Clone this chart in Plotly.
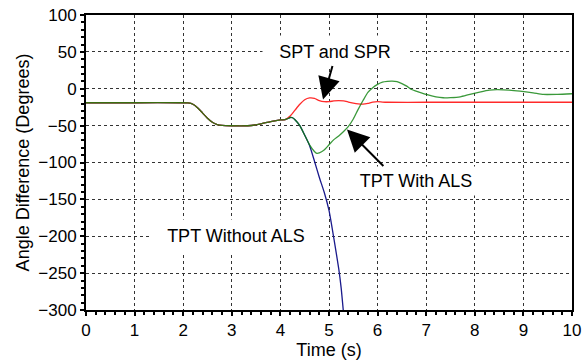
import plotly.graph_objects as go

# Shared pre-fault trajectory (all three cases coincide)
time_shared = [0, 1, 2, 2.1, 2.2, 2.3, 2.4, 2.5, 2.6, 2.7, 2.8, 3.0, 3.2, 3.4, 3.6, 3.8, 4.0, 4.1]
angle_shared = [-19, -19, -19, -19.3, -21, -26, -33, -40, -45.5, -48.5, -49.7, -50.2, -50.3, -49.8, -47.5, -44.5, -42.3, -41.8]

# SPT and SPR (red)
time_spt = [4.2, 4.3, 4.4, 4.5, 4.6, 4.7, 4.8, 4.9, 5.0, 5.1, 5.2, 5.3, 5.4, 5.5, 5.6, 5.7, 5.8, 5.9, 6.0, 6.1, 6.2, 7.0, 8.0, 9.0, 10.0]
angle_spt = [-37, -29, -21, -15, -12.5, -13, -16, -17.5, -17.5, -16.5, -16, -16.5, -18, -19.5, -20.5, -20.8, -19.8, -18, -17.5, -18, -18.3, -18.3, -18.3, -18.3, -18.3]

# TPT With ALS (green)
time_tpt_als = [4.15, 4.2, 4.25, 4.3, 4.4, 4.5, 4.6, 4.7, 4.75, 4.8, 4.9, 5.0, 5.1, 5.2, 5.3, 5.4, 5.5, 5.6, 5.7, 5.8, 5.9,
                6.0, 6.1, 6.2, 6.3, 6.4, 6.5, 6.6, 6.7, 6.85, 7.0, 7.2, 7.35, 7.5, 7.7, 7.9, 8.1, 8.3, 8.45, 8.7, 8.93, 9.2, 9.41, 9.7, 10.0]
angle_tpt_als = [-40.5, -39, -39.3, -42, -50, -63, -76, -85, -87.5, -87, -83, -76, -69, -64, -58, -51, -41, -28, -16, -5, 1.5,
                 6, 9, 10, 10.3, 9.5, 7, 3.5, -1, -4.5, -7.7, -11, -12.2, -12, -10.9, -7.5, -4.6, -2, -1.2, -1.8, -3.2, -5.5, -7.7, -7.6, -6.8]

# TPT Without ALS (blue)
time_tpt_noals = [4.15, 4.2, 4.25, 4.3, 4.4, 4.5, 4.6, 4.7, 4.8, 4.9, 5.0, 5.1, 5.2, 5.25, 5.3]
angle_tpt_noals = [-40.5, -39, -39.3, -42, -50, -63, -77, -98, -120, -140, -165, -203, -244, -270, -305]

x_blue = time_shared + time_tpt_noals
y_blue = angle_shared + angle_tpt_noals
x_red = time_shared + time_spt
y_red = angle_shared + angle_spt
x_green = time_shared + time_tpt_als
y_green = angle_shared + angle_tpt_als

fig = go.Figure()
fig.add_trace(go.Scatter(x=x_blue, y=y_blue, mode="lines", name="TPT Without ALS",
                         line=dict(color="#1a1a8c", width=1.3, shape="spline", smoothing=0.6)))
fig.add_trace(go.Scatter(x=x_red, y=y_red, mode="lines", name="SPT and SPR",
                         line=dict(color="#ff2a2a", width=1.3, shape="spline", smoothing=0.6)))
fig.add_trace(go.Scatter(x=x_green, y=y_green, mode="lines", name="TPT With ALS", opacity=0.8,
                         line=dict(color="#0a800a", width=1.3, shape="spline", smoothing=0.6)))

font_family = "Liberation Sans, Arial, sans-serif"

annotations = [
    dict(x=5.12, y=50, text="SPT and SPR", showarrow=False, bgcolor="white",
         width=142, height=30, font=dict(size=18, color="black", family=font_family)),
    dict(x=6.79, y=-125, text="TPT With ALS", showarrow=False, bgcolor="white",
         width=140, height=26, font=dict(size=18, color="black", family=font_family)),
    dict(x=3.08, y=-200, text="TPT Without ALS", showarrow=False, bgcolor="white",
         width=166, height=30, font=dict(size=18, color="black", family=font_family)),
    dict(x=4.877, y=-14.6, ax=5.08, ay=33, axref="x", ayref="y", xref="x", yref="y",
         text="", showarrow=True, arrowhead=2, arrowsize=2.2, arrowwidth=2, arrowcolor="black"),
    dict(x=5.37, y=-55.3, ax=6.15, ay=-106.7, axref="x", ayref="y", xref="x", yref="y",
         text="", showarrow=True, arrowhead=2, arrowsize=2.2, arrowwidth=2, arrowcolor="black"),
]

fig.update_layout(
    width=584, height=362,
    margin=dict(l=86, r=12, t=15, b=52),
    paper_bgcolor="white", plot_bgcolor="white",
    showlegend=False,
    font=dict(family=font_family, size=17, color="black"),
    annotations=annotations,
)

fig.update_xaxes(
    range=[0, 10], dtick=1, tick0=0, automargin=False, ticklabeloverflow="allow",
    showgrid=True, gridcolor="#333333", gridwidth=1, griddash="dot",
    showline=True, linecolor="black", linewidth=2, mirror=True,
    ticks="outside", ticklen=4, tickwidth=1.5, tickcolor="black",
    minor=dict(dtick=0.2, ticks="outside", ticklen=3, tickwidth=1.5, tickcolor="black", showgrid=False),
    zeroline=False,
    title=dict(text="Time (s)", font=dict(size=18), standoff=2),
    tickfont=dict(size=17),
)
fig.update_yaxes(
    range=[-300, 100], dtick=50, tick0=0, automargin=False, ticklabeloverflow="allow",
    showgrid=True, gridcolor="#333333", gridwidth=1, griddash="dot",
    showline=True, linecolor="black", linewidth=2, mirror=True,
    ticks="outside", ticklen=4, tickwidth=1.5, tickcolor="black",
    minor=dict(dtick=10, ticks="outside", ticklen=3, tickwidth=1.5, tickcolor="black", showgrid=False),
    zeroline=False,
    title=dict(text="Angle Difference (Degrees)", font=dict(size=18), standoff=4),
    tickfont=dict(size=17),
)

# Remove the browser's default 8 px body margin so the figure fills the window exactly.
fig.write_html("out.html", config={"displayModeBar": False},
               post_script="document.body.style.margin='0';document.body.style.overflow='hidden';")
